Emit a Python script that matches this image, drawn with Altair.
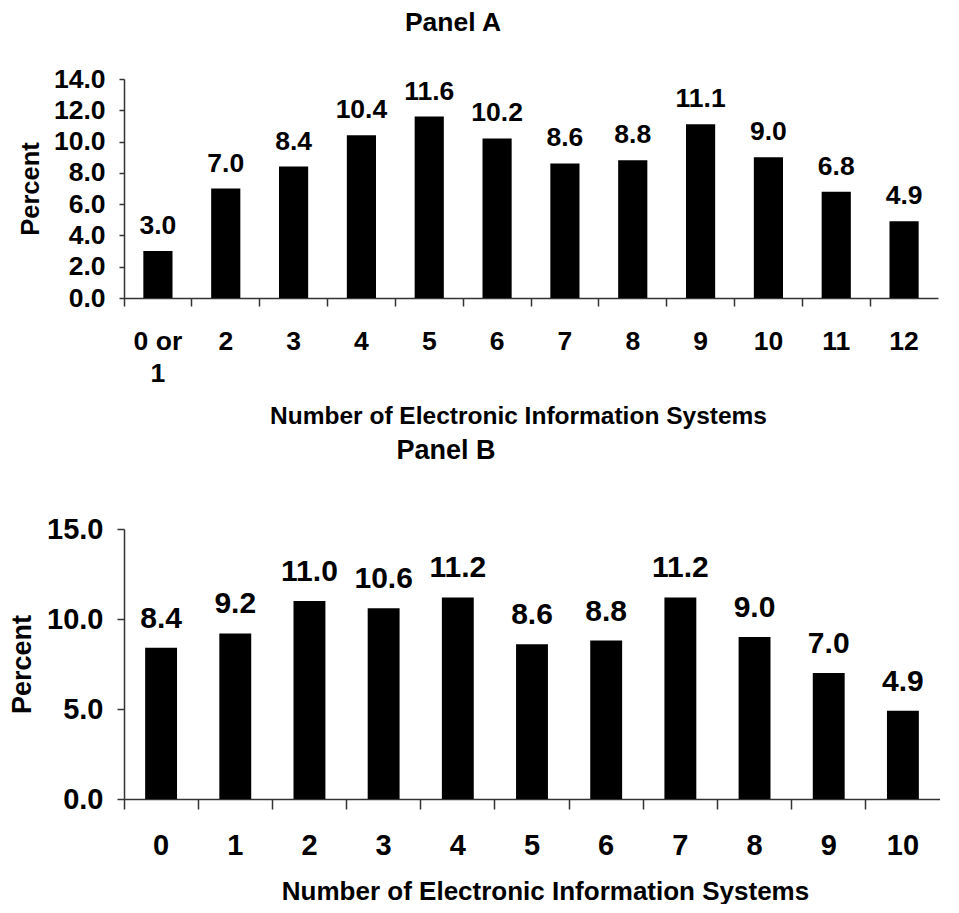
import altair as alt
import pandas as pd

cats_a = ["0 or 1", "2", "3", "4", "5", "6", "7", "8", "9", "10", "11", "12"]
vals_a = [3.0, 7.0, 8.4, 10.4, 11.6, 10.2, 8.6, 8.8, 11.1, 9.0, 6.8, 4.9]
ticks_a = [0, 2, 4, 6, 8, 10, 12, 14]

cats_b = ["0", "1", "2", "3", "4", "5", "6", "7", "8", "9", "10"]
vals_b = [8.4, 9.2, 11.0, 10.6, 11.2, 8.6, 8.8, 11.2, 9.0, 7.0, 4.9]
ticks_b = [0, 5, 10, 15]

FONT = "Liberation Sans"
AX = "#333333"

df_a = pd.DataFrame({"cat": cats_a, "val": vals_a})
df_b = pd.DataFrame({"cat": cats_b, "val": vals_b})


def panel(df, cats, ticks, ymax, w, h, tick_fs, lab_fs, xt_fs, yt_fs, title_fs,
          title, tdx, toff, ytick, xtick, lab_dy, xlabpad, xtitlepad, xtitle_x):
    x = alt.X(
        "cat:N",
        sort=cats,
        scale=alt.Scale(paddingInner=0, paddingOuter=0),
        axis=alt.Axis(
            title="Number of Electronic Information Systems",
            titleFontSize=xt_fs,
            titleX=xtitle_x,
            labelFontSize=tick_fs,
            labelAngle=0,
            bandPosition=0,
            tickSize=xtick,
            labelPadding=xlabpad,
            titlePadding=xtitlepad,
            labelExpr="datum.label == '0 or 1' ? ['0 or', '1'] : datum.label",
            labelLineHeight=32,
        ),
    )
    y = alt.Y(
        "val:Q",
        scale=alt.Scale(domain=[0, ymax], nice=False),
        axis=alt.Axis(
            title="Percent",
            values=ticks,
            format=".1f",
            titleFontSize=yt_fs,
            labelFontSize=tick_fs,
            labelOverlap=False,
            labelFlush=False,
            tickSize=ytick,
            labelPadding=14,
            titlePadding=10,
            grid=False,
        ),
    )
    bars = alt.Chart(df).mark_bar(
        color="black", width=alt.RelativeBandSize(0.43)
    ).encode(x=x, y=y)
    labels = alt.Chart(df).mark_text(
        baseline="bottom", dy=-lab_dy, fontSize=lab_fs, fontWeight="bold", font=FONT, color="black"
    ).encode(x=x, y=y, text=alt.Text("val:Q", format=".1f"))
    return (bars + labels).properties(
        width=w,
        height=h,
        title=alt.Title(title, fontSize=title_fs, dx=tdx, offset=toff),
    )


pa = panel(df_a, cats_a, ticks_a, 14, 814, 219, 26.5, 26.5, 24.5, 25.5, 26.5,
           "Panel A", -78, 30, 5, 8, 11, 22, 18, 394)
pb = panel(df_b, cats_b, ticks_b, 15, 816, 270, 29, 30, 26, 27, 27,
           "Panel B", -86, 50, 7, 10, 14, 22, 18, 421)

chart = alt.vconcat(pa, pb, spacing=9).properties(
    padding={"left": 0, "top": 1, "right": 0, "bottom": 0}
).configure(
    font=FONT
).configure_axis(
    labelFont=FONT,
    titleFont=FONT,
    labelFontWeight="bold",
    titleFontWeight="bold",
    labelColor="black",
    titleColor="black",
    domainColor=AX,
    tickColor=AX,
    domainWidth=1.5,
    tickWidth=1.5,
).configure_title(
    font=FONT, fontWeight="bold", color="black"
).configure_view(stroke=None)

chart.save("out.html", embed_options={"renderer": "svg", "actions": False})
